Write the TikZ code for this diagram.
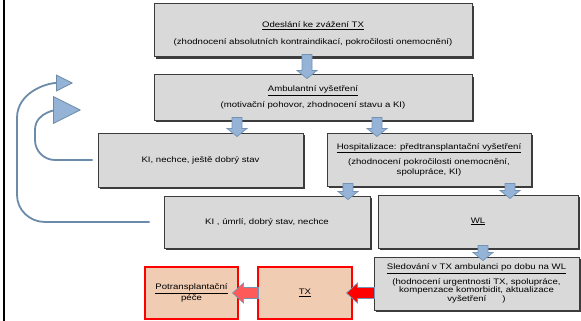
\documentclass[tikz,border=0pt]{standalone}
\usepackage{fontspec}
\setmainfont{Liberation Sans}[FakeStretch=1.2]
\usetikzlibrary{calc,shadows,arrows.meta}
\definecolor{boxfill}{HTML}{D9D9D9}
\definecolor{boxborder}{HTML}{3C3C3C}
\definecolor{arrowfill}{HTML}{95B3D7}
\definecolor{arrowborder}{HTML}{7392B4}
\definecolor{loopc}{HTML}{6A8BAA}
\definecolor{peach}{HTML}{F0CCB2}
\definecolor{pinkarrow}{HTML}{FF5A5A}
\newcommand\blkdown[3][arrowfill]{%
  \draw[blkarrow, fill=#1] let \p1=#2, \p2=#3 in
    (\x1-5pt,\y1+3pt) -- (\x1+5pt,\y1+3pt) -- (\x1+5pt,\y2+4pt) -- (\x1+10pt,\y2+4pt)
    -- (\x1,\y2-4pt) -- (\x1-10pt,\y2+4pt) -- (\x1-5pt,\y2+4pt) -- cycle;}
\newcommand\blkleft[3][red]{%
  \draw[blkarrow, fill=#1] let \p1=#2, \p2=#3 in
    (\x1+1pt,\y1+5.5pt) -- (\x2+5pt,\y1+5.5pt) -- (\x2+5pt,\y1+10pt)
    -- (\x2-6pt,\y1) -- (\x2+5pt,\y1-10pt) -- (\x2+5pt,\y1-5.5pt) -- (\x1+1pt,\y1-5.5pt) -- cycle;}
\begin{document}
\begin{tikzpicture}[x=1pt,y=-1pt,
  box/.style={draw=boxborder, line width=1pt, fill=boxfill, align=center, inner sep=1pt,
    general shadow={fill=boxborder, shadow xshift=1.6pt, shadow yshift=-1.6pt},
    font=\fontsize{8}{9}\selectfont},
  txt/.style={align=center, inner sep=0pt, font=\fontsize{8}{9}\selectfont},
  redbox/.style={draw=red, line width=1.2pt, fill=peach, align=center, inner sep=1pt,
    font=\fontsize{8}{9}\selectfont},
  blkarrow/.style={draw=arrowborder, line width=0.7pt, line join=miter},
  loopline/.style={draw=loopc, line width=1.8pt},
  looptip/.style={-{Triangle[length=#1,width=#1,fill=arrowfill,line width=0.8pt]}}
]
\useasboundingbox (0,0) rectangle (581,321);
\draw[black, line width=2pt] (3.5,0) -- (3.5,321);

\node[box, minimum width=318pt, minimum height=53pt] (b1) at (313,30.5) {};
\node[txt] (b1t) at ([yshift=-3.5pt]b1.center)
  {\underline{Odeslání ke zvážení TX}\\[8pt](zhodnocení absolutních kontraindikací, pokročilosti onemocnění)};
\node[box, minimum width=318pt, minimum height=45pt] (b2) at (313,97.5)
  {\underline{Ambulantní vyšetření}\\[5pt](motivační pohovor, zhodnocení stavu a KI)};
\node[box, minimum width=205pt, minimum height=54pt] (b3) at (200.5,160)
  {KI, nechce, ještě dobrý stav};
\node[box, minimum width=204pt, minimum height=53pt, font=\fontsize{8}{10}\selectfont] (b4) at (429,159.5)
  {\underline{Hospitalizace: předtransplantační vyšetření}\\[5pt](zhodnocení pokročilosti onemocnění,\\spolupráce, KI)};
\node[box, minimum width=206pt, minimum height=52pt] (b5) at (267,222)
  {KI , úmrlí, dobrý stav, nechce};
\node[box, minimum width=200pt, minimum height=53pt] (b6) at (478,221.5)
  {\underline{WL}};
\node[box, minimum width=205pt, minimum height=53pt, font=\fontsize{8}{8.6}\selectfont] (b7) at (476.5,283.5)
  {\underline{Sledování v TX ambulanci po dobu na WL}\\[3.5pt](hodnocení urgentnosti TX, spolupráce,\\kompenzace komorbidit, aktualizace\\vyšetření\hspace{16pt})};
\node[redbox, minimum width=93pt, minimum height=52pt] (pot) at (191.5,293)
  {\underline{Potransplantační}\\péče};
\node[redbox, minimum width=94pt, minimum height=52pt] (tx) at (305,293)
  {\underline{TX}};

\coordinate (k1) at (307,0);
\coordinate (k2) at (237,0);
\coordinate (k3) at (377,0);
\coordinate (k4) at (348,0);
\coordinate (k5) at (510,0);
\coordinate (k6) at (483,0);
\blkdown{(k1 |- b1.south)}{(k1 |- b2.north)}
\blkdown{(k2 |- b2.south)}{(k2 |- b3.north)}
\blkdown{(k3 |- b2.south)}{(k3 |- b4.north)}
\blkdown{(k4 |- b4.south)}{(k4 |- b5.north)}
\blkdown{(k5 |- b4.south)}{(k5 |- b6.north)}
\blkdown{(k6 |- b6.south)}{(k6 |- b7.north)}
\blkleft[red]{(b7.west |- tx.east)}{(tx.east)}
\blkleft[pinkarrow]{(tx.west)}{(pot.east)}

\draw[loopline, looptip=17pt] ([xshift=-14pt]b5.west) -- (45,222)
  to[out=180,in=270] (17,195) -- (17,118) to[out=90,in=180] (73,83);
\draw[loopline, looptip=28pt] ([xshift=-5pt]b3.west) -- (55,160)
  to[out=180,in=270] (35,140) -- (35,130) to[out=90,in=180] (81,110);
\end{tikzpicture}
\end{document}
